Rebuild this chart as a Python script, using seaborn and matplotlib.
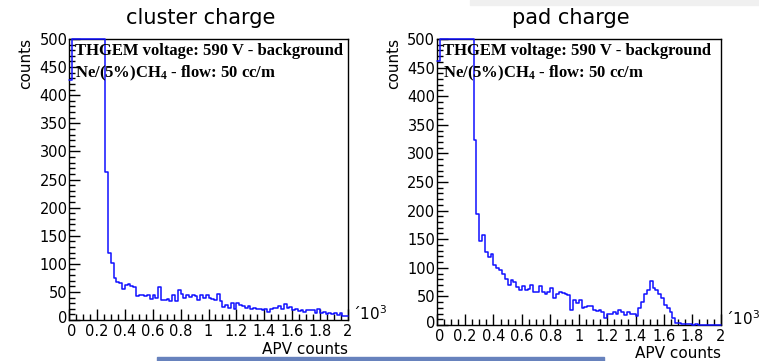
import numpy as np
import pandas as pd
import matplotlib
matplotlib.use("Agg")
import matplotlib.pyplot as plt
import matplotlib.transforms as mtransforms
import seaborn as sns
from matplotlib.ticker import MultipleLocator, FuncFormatter
from matplotlib.patches import Rectangle

# ---- data (APV counts in units of 10^3, 100 bins of 0.02) ----
N_BINS = 100
X_RANGE = (0.0, 2.0)
Y_MAX = 500  # bins above the axis top are shown at the ceiling

cluster_counts = [427] + [500] * 12 + [
    263, 120, 101, 74, 68, 66, 56, 62, 64, 60, 58,
    43, 44, 44, 42, 44, 37, 45, 40, 58, 35, 35, 38, 33, 44, 33,
    54, 46, 40, 44, 41, 44, 42, 36, 44, 40, 44, 40, 38, 36, 46, 33,
    23, 27, 22, 30, 19, 30, 27, 25, 22, 25, 20, 22, 20, 20, 17,
    20, 14, 20, 22, 22, 25, 20, 28, 22, 24, 18, 20, 16, 18, 14, 17,
    18, 18, 12, 20, 13, 14, 10, 12, 10, 12, 9, 12, 8, 8]

pad_counts = [462] + [500] * 12 + [
    323, 194, 147, 158, 128, 119, 124, 105, 100, 96, 89,
    80, 70, 78, 76, 66, 62, 68, 62, 63, 70, 58, 58, 68, 58, 55, 58,
    64, 47, 54, 58, 56, 55, 52, 26, 44, 38, 44, 29, 32, 33, 33, 27,
    25, 26, 23, 12, 20, 19, 23, 19, 26, 22, 17, 23, 20, 19, 16,
    30, 41, 55, 61, 77, 64, 62, 55, 47, 35, 29, 23, 12, 3, 3,
    2, 1, 1, 1, 0, 1, 0, 0, 0, 0, 0, 0, 0, 0]

titles = ["cluster charge", "pad charge"]
info_line1 = "THGEM voltage: 590 V - background"
info_line2 = r"Ne/(5%)CH$_{4}$ - flow: 50 cc/m"
x_label = "APV counts"
y_label = "counts"
x_ticks = [0, 0.2, 0.4, 0.6, 0.8, 1.0, 1.2, 1.4, 1.6, 1.8, 2.0]
y_ticks = list(range(0, 501, 50))

sns.set_theme(style="white")
plt.rcParams["font.family"] = ["DejaVu Sans"]
plt.rcParams["mathtext.fontset"] = "custom"
plt.rcParams["mathtext.rm"] = "Liberation Serif:bold"
plt.rcParams["mathtext.it"] = "Liberation Serif:bold"
plt.rcParams["mathtext.bf"] = "Liberation Serif:bold"

W, H = 759, 361
fig = plt.figure(figsize=(W / 100, H / 100), dpi=100)
fig.patch.set_facecolor("white")

# axes rectangles in pixels: (left, top, right, bottom)
rects = [(69, 39, 348, 320), (436.7, 39, 720.7, 325)]
bw = (X_RANGE[1] - X_RANGE[0]) / N_BINS
centers = X_RANGE[0] + bw * (np.arange(N_BINS) + 0.5)

for k, (counts, title) in enumerate(zip([cluster_counts, pad_counts], titles)):
    l, t, r, b = rects[k]
    ax = fig.add_axes([l / W, 1 - b / H, (r - l) / W, (b - t) / H])
    df = pd.DataFrame({"x": centers, "w": np.minimum(counts, Y_MAX)})
    sns.histplot(data=df, x="x", weights="w", bins=N_BINS, binrange=X_RANGE,
                 element="step", fill=False, color="#1010ff", linewidth=1.1,
                 ax=ax)
    for ln in ax.lines:
        ln.set_zorder(3)
        ln.set_clip_on(False)
    ax.set_xlim(*X_RANGE)
    ax.set_ylim(0, Y_MAX)
    ax.set_xlabel("")
    ax.set_ylabel("")
    for s in ax.spines.values():
        s.set_color("black")
        s.set_linewidth(1.0)
        s.set_visible(True)
    ax.set_xticks(x_ticks)
    ax.set_yticks(y_ticks)
    ax.xaxis.set_minor_locator(MultipleLocator(0.05))
    ax.yaxis.set_minor_locator(MultipleLocator(10))
    ax.xaxis.set_major_formatter(FuncFormatter(lambda v, p: "%g" % v))
    ax.tick_params(axis="both", which="major", direction="in", length=8,
                   width=1, color="black", labelsize=10.5, labelcolor="black",
                   top=False, right=False, bottom=True, left=True)
    ax.tick_params(axis="both", which="minor", direction="in", length=4,
                   width=1, color="black", top=False, right=False,
                   bottom=True, left=True)
    ax.tick_params(axis="y", which="major", pad=1)
    ax.tick_params(axis="x", which="major", pad=3)

    # nudge the two "0" labels at the corner apart slightly
    fig.canvas.draw()
    xl0 = ax.get_xticklabels()[0]
    xl0.set_transform(xl0.get_transform() +
                      mtransforms.ScaledTranslation(3 / 100, 0, fig.dpi_scale_trans))
    yl0 = ax.get_yticklabels()[0]
    yl0.set_transform(yl0.get_transform() +
                      mtransforms.ScaledTranslation(0, 3 / 100, fig.dpi_scale_trans))

    # title
    fig.text(((l + r) / 2 - 8) / W, 1 - 18 / H, title, ha="center",
             va="center", fontsize=15, color="black")
    # axis labels
    fig.text((l - 43) / W, 1 - (t - 1) / H, y_label, rotation=90, ha="center",
             va="top", fontsize=11, color="black")
    fig.text(r / W, 1 - (b + 29) / H, x_label, ha="right", va="center",
             fontsize=11, color="black")
    fig.text((r + 4) / W, 1 - (b - 6) / H, "\u00b410$^{3}$", ha="left",
             va="center", fontsize=11, color="black",
             math_fontfamily="dejavusans")
    # info text
    ax.text(6 / (r - l), 1 - 16 / (b - t), info_line1, transform=ax.transAxes,
            ha="left", va="baseline", fontsize=12, fontweight="bold",
            family="Liberation Serif", color="black", zorder=4)
    ax.text(6 / (r - l), 1 - 38 / (b - t), info_line2, transform=ax.transAxes,
            ha="left", va="baseline", fontsize=12, fontweight="bold",
            family="Liberation Serif", color="black", zorder=4)

# slide decorations visible in the reference
fig.patches.append(Rectangle((157 / W, 0), (604 - 157) / W, 4 / H,
                             transform=fig.transFigure, color="#6782bd",
                             zorder=5))
fig.patches.append(Rectangle((470 / W, 1 - 5 / H), (W - 470) / W, 5 / H,
                             transform=fig.transFigure, color="#f0f0f0",
                             zorder=0))

fig.savefig("out.png", dpi=100)
